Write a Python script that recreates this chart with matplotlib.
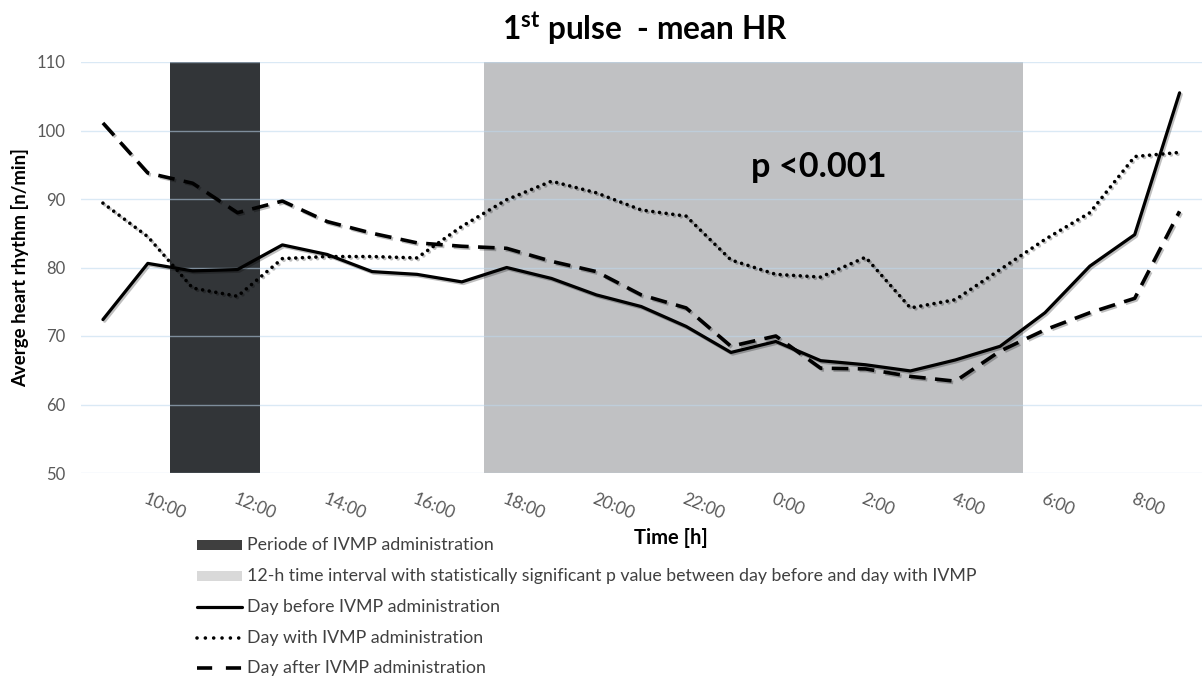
import matplotlib
matplotlib.use("Agg")
import matplotlib.pyplot as plt
from matplotlib.lines import Line2D
from matplotlib.patches import Rectangle
import matplotlib.patheffects as pe
import numpy as np

# ---------------- data ----------------
hours = ["9:00", "10:00", "11:00", "12:00", "13:00", "14:00", "15:00", "16:00",
         "17:00", "18:00", "19:00", "20:00", "21:00", "22:00", "23:00", "0:00",
         "1:00", "2:00", "3:00", "4:00", "5:00", "6:00", "7:00", "8:00", "9:00"]
day_before = [72.4, 80.6, 79.5, 79.7, 83.3, 81.9, 79.4, 79.0, 77.9, 80.0, 78.4, 76.0,
              74.3, 71.4, 67.6, 69.2, 66.4, 65.8, 64.9, 66.5, 68.5, 73.4, 80.2, 84.8, 105.5]
day_with = [89.4, 84.5, 77.0, 75.8, 81.3, 81.6, 81.6, 81.4, 86.0, 89.9, 92.6, 90.9,
            88.4, 87.5, 81.1, 79.0, 78.6, 81.5, 74.1, 75.3, 79.7, 84.1, 88.0, 96.2, 96.8]
day_after = [101.1, 93.8, 92.3, 88.0, 89.7, 86.7, 85.0, 83.6, 83.1, 82.8, 80.9, 79.4,
             76.0, 74.1, 68.5, 70.0, 65.3, 65.2, 64.1, 63.4, 67.8, 70.9, 73.4, 75.5, 88.2]
ivmp_period = (1.5, 3.5)      # category positions (10:30 - 12:30)
signif_period = (8.5, 20.5)   # category positions (17:30 - 5:30)
y_ticks = [50, 60, 70, 80, 90, 100, 110]
legend_labels = ["Periode of IVMP administration",
                 "12-h time interval with statistically significant p value between day before and day with IVMP",
                 "Day before IVMP administration",
                 "Day with IVMP administration",
                 "Day after IVMP administration"]

# ---------------- style ----------------
FONT = ["Lato", "DejaVu Sans"]
plt.rcParams["font.family"] = FONT
plt.rcParams["mathtext.fontset"] = "custom"
plt.rcParams["mathtext.rm"] = "Lato"
plt.rcParams["mathtext.bf"] = "Lato:bold"

W, H = 1202, 676
fig = plt.figure(figsize=(W / 100, H / 100), dpi=100)
ax_left, ax_right, ax_top, ax_bottom = 80.5, 1202, 62, 473
ax = fig.add_axes([ax_left / W, 1 - ax_bottom / H, (ax_right - ax_left) / W, (ax_bottom - ax_top) / H])

x = np.arange(len(hours))
ax.set_xlim(-0.5, len(hours) - 0.5)
ax.set_ylim(y_ticks[0], y_ticks[-1])

DARK = "#323538"
LIGHT = "#C0C1C3"
ax.axvspan(*ivmp_period, color=DARK, lw=0, zorder=0.5)
ax.axvspan(*signif_period, color=LIGHT, lw=0, zorder=0.5)
for yv in y_ticks:
    ax.axhline(yv, color="#BDD7EE", alpha=0.55, lw=1.0, zorder=1)

shadow = [pe.SimpleLineShadow(offset=(1.2, -1.2), alpha=0.25, shadow_color="black"), pe.Normal()]
solid_kw = dict(color="black", lw=2.3, solid_joinstyle="round", solid_capstyle="round")
dot_kw = dict(color="black", lw=2.6, linestyle=(0, (0.01, 1.85)), dash_capstyle="round")
dash_kw = dict(color="black", lw=2.6, linestyle=(0, (4.6, 2.6)), dash_capstyle="butt")

ax.plot(x, day_before, zorder=3, path_effects=shadow, **solid_kw)
ax.plot(x, day_with, zorder=3, path_effects=shadow, **dot_kw)
ax.plot(x, day_after, zorder=3, path_effects=shadow, **dash_kw)

for s in ax.spines.values():
    s.set_visible(False)

ax.set_yticks(y_ticks)
ax.set_yticklabels([str(v) for v in y_ticks], fontsize=12, color="#595959")
ax.tick_params(axis="y", length=0, pad=11)

ax.set_xticks(x[1::2])
ax.set_xticklabels(hours[1::2], fontsize=12.3, color="#595959",
                   rotation=-22, ha="left", va="top", rotation_mode="anchor")
ax.tick_params(axis="x", length=0, pad=13)

# texts
fig.text(645 / W, 1 - 29 / H, r"$\mathbf{1^{st}}$ pulse  - mean HR", ha="center", va="center",
         fontsize=22.8, fontweight="bold", color="black")
fig.text(20 / W, 1 - 268 / H, "Averge heart rhythm [n/min]", rotation=90, ha="center", va="center",
         fontsize=13.4, fontweight="bold", color="black")
fig.text(671 / W, 1 - 538 / H, "Time [h]", ha="center", va="center",
         fontsize=14.5, fontweight="bold", color="black")
fig.text(819 / W, 1 - 167 / H, "p <0.001", ha="center", va="center",
         fontsize=24.7, fontweight="bold", color="black")

# ---------------- legend (drawn in figure pixel space) ----------------
rows_y = [545, 576, 607, 638, 668]
hx0, hx1, tx = 197, 242, 247
to_fig = lambda px, py: (px / W, 1 - py / H)
for i, col in enumerate(["#3F3F3F", "#D9D9D9"]):
    (fx, fy) = to_fig(hx0, rows_y[i] + 5)
    fig.add_artist(Rectangle((fx, fy), (hx1 - hx0) / W, 10 / H, transform=fig.transFigure,
                             facecolor=col, edgecolor="none"))
for i, kw in zip([2, 3, 4], [solid_kw, dot_kw, dash_kw]):
    xs = [hx0 / W, hx1 / W]
    ys = [1 - rows_y[i] / H] * 2
    k = dict(kw)
    if i == 3:
        k["linestyle"] = (0, (0.01, 2.3))
    if i == 4:
        k["linestyle"] = (0, (4.2, 3.8))
    fig.add_artist(Line2D(xs, ys, transform=fig.transFigure, **k))
for i, lab in enumerate(legend_labels):
    fig.text(tx / W, 1 - rows_y[i] / H, lab, ha="left", va="center", fontsize=12.8, color="#404040")

fig.savefig("out.png", dpi=100, facecolor="white")
